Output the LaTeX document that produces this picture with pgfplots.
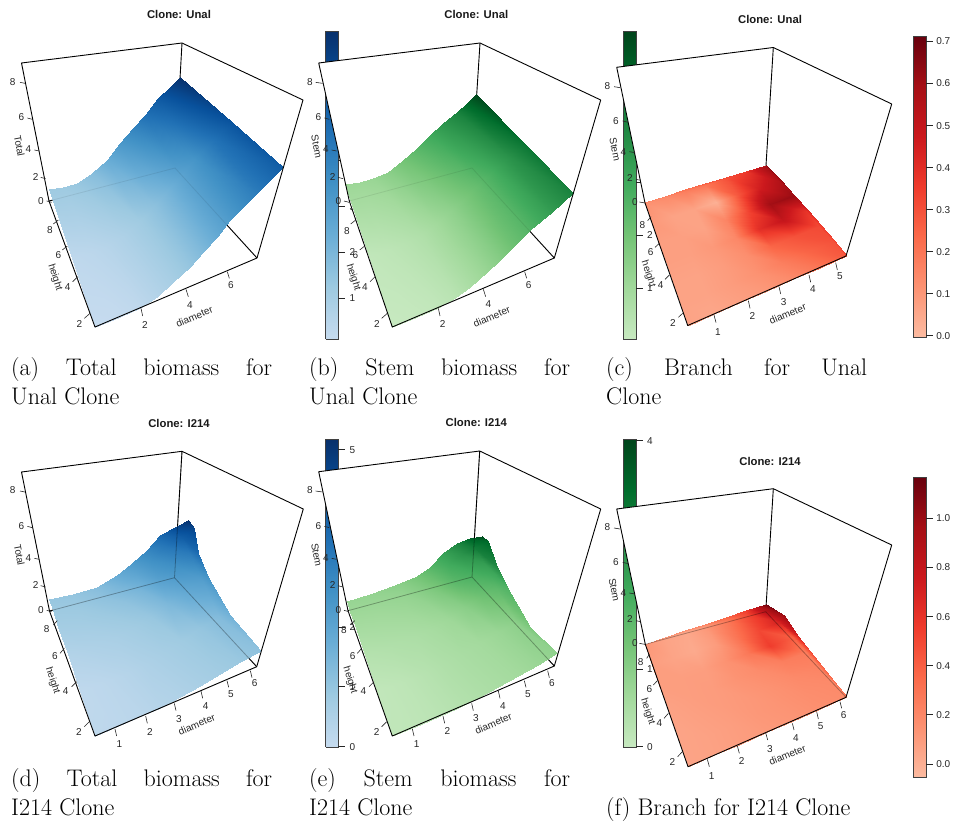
\documentclass[border=0pt]{standalone}
\usepackage{fontspec}
\usepackage{pgfplots}
\pgfplotsset{compat=1.18}
\newfontfamily\hv{Liberation Sans}
\pgfplotsset{
  colormap={blues}{rgb255=(198,219,239) rgb255=(158,202,225) rgb255=(107,174,214) rgb255=(66,146,198) rgb255=(33,113,181) rgb255=(8,81,156) rgb255=(8,48,107)},
  colormap={greens}{rgb255=(199,233,192) rgb255=(161,217,155) rgb255=(116,196,118) rgb255=(65,171,93) rgb255=(35,139,69) rgb255=(0,109,44) rgb255=(0,68,27)},
  colormap={reds}{rgb255=(252,187,161) rgb255=(252,146,114) rgb255=(251,106,74) rgb255=(239,59,44) rgb255=(203,24,29) rgb255=(165,15,21) rgb255=(103,0,13)},
  px/.style={scale only axis,width=957pt,height=828pt,xmin=0,xmax=957,ymin=0,ymax=828,y dir=reverse,hide axis,clip=false},
  bl/.style={black,line width=0.9pt,line join=round,no markers},
  fl/.style={fill=white,draw=none,no markers},
  ov/.style={black,line width=0.8pt,no markers},
  bd/.style={black!75,line width=0.9pt,no markers},
  sf/.style n args={2}{surf,shader=interp,mesh/rows=#1,mesh/cols=#2,point meta=explicit,no markers},
}
\tikzset{
  tl/.style={font=\hv\fontsize{10}{11}\selectfont,text=black!85,inner sep=0pt},
  ttl/.style={font=\hv\bfseries\fontsize{11.3}{13}\selectfont,text=black!90,inner sep=0pt},
  captxt/.style={anchor=base west,inner sep=0pt,font=\fontsize{24}{28}\selectfont,text=black},
}
\def\ox{0}\def\oy{0}
% tick mark and its label, in coordinates of the crop (3x) at offset \ox,\oy
\newcommand\tk[7]{%
  \pgfmathsetmacro\xa{\ox+#1/3}\pgfmathsetmacro\ya{\oy+#2/3}%
  \pgfmathsetmacro\xb{\ox+#3/3}\pgfmathsetmacro\yb{\oy+#4/3}%
  \pgfmathsetmacro\xl{\ox+#5/3}\pgfmathsetmacro\yl{\oy+#6/3}%
  \edef\temp{\noexpand\draw[line width=.6pt,black!85] (axis cs:\xa,\ya) -- (axis cs:\xb,\yb);
  \noexpand\node[tl] at (axis cs:\xl,\yl) {\unexpanded{#7}};}\temp}
% rotated axis label
\newcommand\al[4]{%
  \pgfmathsetmacro\xl{\ox+#1/3}\pgfmathsetmacro\yl{\oy+#2/3}%
  \edef\temp{\noexpand\node[tl,rotate=#3] at (axis cs:\xl,\yl) {#4};}\temp}
\begin{document}
\begin{tikzpicture}
% ---------------- (a)
\begin{axis}[px,colormap name=blues,point meta min=0.1,point meta max=6.8]
\path (axis cs:0,0) rectangle (axis cs:957,828);
\addplot[bl] coordinates {(182,43) (175,168)};
\addplot[bl] coordinates {(49,201) (175,168)};
\addplot[bl] coordinates {(175,168) (257,258)};
\addplot[sf={3}{11}] table[x index=0,y index=1,meta index=2] {
95 327 0.10
120 316.7 0.15
140 308.3 0.30
156.7 296.7 0.60
173.3 281.7 0.95
190 266.7 1.40
203.3 251.7 1.90
216.7 236.7 2.50
230 220 3.10
256.7 193.3 4.20
283.3 166.7 5.30
72.15 258.15 0.30
91.65 252 0.40
108.35 245.5 0.55
124.2 235 0.80
140 220.85 1.15
155 205 1.60
168.3 190 2.15
180.85 175.85 2.75
194.15 159.15 3.35
213.35 140.3 4.50
231.65 121.7 5.60
49.3 189.3 1.20
63.3 187.3 1.20
76.7 182.7 1.35
91.7 173.3 1.70
106.7 160 2.40
120 143.3 3.20
133.3 128.3 3.90
145 115 4.60
158.3 98.3 5.40
170 87.3 6.10
180 76.7 6.80
};
\addplot[ov,opacity=.08] coordinates {(49,201) (175,168) (257,258)};
\addplot[bl] coordinates {(49,201) (21.5,63) (182,43) (303,100) (257,258) (95,327) (49,201)};
\def\ox{0}\def\oy{0}
\tk{60}{247}{75}{250}{38}{245}{8}
\tk{82}{354}{97}{358}{64}{352}{6}
\tk{103}{450}{118}{453}{85}{446}{4}
\tk{122}{532}{137}{536}{107}{530}{2}
\tk{140}{603}{155}{607}{123}{602}{0}
\tk{160}{672}{175}{660}{150}{690}{8}
\tk{187}{750}{202}{738}{175}{765}{6}
\tk{218}{845}{233}{830}{203}{860}{4}
\tk{253}{955}{270}{940}{238}{972}{2}
\tk{423}{925}{428}{948}{435}{975}{2}
\tk{558}{868}{565}{890}{570}{915}{4}
\tk{682}{815}{688}{835}{693}{855}{6}
\al{58}{438}{-79}{Total}
\al{165}{832}{-72}{height}
\al{583}{950}{23}{diameter}
\node[ttl] at (axis cs:179,14) {Clone: Unal};
\node[captxt] at (axis cs:11,375) {\hbox to 261pt{\spaceskip=6pt plus 1fil (a) Total biomass for}};
\node[captxt] at (axis cs:11,404) {Unal Clone};
% colour key of (a)
\addplot[sf={2}{2}] table[x index=0,y index=1,meta index=2] {
325.5 339 0.1
338.5 339 0.1
325.5 31 6.8
338.5 31 6.8
};
\addplot[bd] coordinates {(325.5,339) (338.5,339) (338.5,31) (325.5,31) (325.5,339)};
\def\ox{300}\def\oy{0}
\tk{115}{895}{135}{895}{157}{895}{1}
\tk{115}{757}{135}{757}{157}{757}{2}
\tk{115}{620}{135}{620}{157}{620}{3}
\tk{115}{482}{135}{482}{157}{482}{4}
\end{axis}
% ---------------- (b)
\begin{axis}[px,colormap name=greens,point meta min=0.05,point meta max=5.85]
\addplot[fl] coordinates {(318.7,63) (480,43) (600.7,100) (554.3,258) (392.3,327) (349.3,201)};
\addplot[bl] coordinates {(480,43) (472,168)};
\addplot[bl] coordinates {(349.3,201) (472,168)};
\addplot[bl] coordinates {(472,168) (554.3,258)};
\addplot[sf={3}{11}] table[x index=0,y index=1,meta index=2] {
392.3 327.3 0.05
416.7 317.3 0.10
438.3 308.3 0.20
455 298.3 0.40
470 286.7 0.75
486.7 271.7 1.20
500 260 1.60
513.3 246.7 2.10
530 230 2.60
551.7 211.7 3.40
573.3 193.3 4.20
368.65 255.65 0.20
388.35 249.5 0.30
405.8 243.3 0.45
421.65 235 0.65
436.65 223.35 1.00
451.7 210 1.40
465 197.5 1.85
478.3 185 2.30
493.35 170.85 2.90
509.2 157.5 3.70
524.65 143.8 4.60
345 184 1.10
360 181.7 1.10
373.3 178.3 1.20
388.3 171.7 1.50
403.3 160 2.00
416.7 148.3 2.50
430 135 3.00
443.3 123.3 3.60
456.7 111.7 4.20
466.7 103.3 5.00
476 94.3 5.85
};
\addplot[ov,opacity=.08] coordinates {(349.3,201) (472,168) (554.3,258)};
\addplot[bl] coordinates {(349.3,201) (318.7,63) (480,43) (600.7,100) (554.3,258) (392.3,327) (349.3,201)};
\def\ox{300}\def\oy{0}
\tk{47}{247}{68}{250}{30}{245}{8}
\tk{73}{354}{88}{358}{55}{352}{6}
\tk{95}{450}{110}{453}{78}{447}{4}
\tk{114}{532}{129}{536}{98}{530}{2}
\tk{132}{603}{147}{607}{115}{602}{0}
\tk{152}{672}{167}{660}{141}{692}{8}
\tk{179}{750}{194}{738}{166}{765}{6}
\tk{210}{845}{225}{830}{195}{860}{4}
\tk{245}{955}{262}{940}{231}{973}{2}
\tk{415}{925}{420}{948}{428}{973}{2}
\tk{550}{868}{557}{890}{565}{913}{4}
\tk{674}{815}{680}{835}{686}{855}{6}
\al{50}{440}{-79}{Stem}
\al{160}{832}{-72}{height}
\al{575}{950}{23}{diameter}
\node[ttl] at (axis cs:476.3,14) {Clone: Unal};
\node[captxt] at (axis cs:309,375) {\hbox to 261pt{\spaceskip=6pt plus 1fil (b) Stem biomass for}};
\node[captxt] at (axis cs:309,404) {Unal Clone};
\addplot[sf={2}{2}] table[x index=0,y index=1,meta index=2] {
623.3 339 0.05
636 339 0.05
623.3 31 5.85
636 31 5.85
};
\addplot[bd] coordinates {(623.3,339) (636,339) (636,31) (623.3,31) (623.3,339)};
\def\ox{600}\def\oy{0}
\tk{108}{865}{128}{865}{150}{865}{1}
\tk{108}{705}{128}{705}{150}{705}{2}
\tk{108}{546}{128}{546}{150}{546}{3}
\end{axis}
% ---------------- (c)
\begin{axis}[px,colormap name=reds,point meta min=0,point meta max=0.713]
\addplot[fl] coordinates {(616.7,67.3) (773.3,47.5) (891.7,104) (846,256) (687.7,325.5) (645,203)};
\addplot[bl] coordinates {(773.3,47.5) (765.7,170)};
\addplot[sf={7}{7}] table[x index=0,y index=1,meta index=2] {
688 325.5 0.07
714.3 313.9 0.06
740.7 302.3 0.08
767 290.8 0.10
793.3 279.2 0.14
819.7 267.6 0.20
846 256 0.28
680.8 305.1 0.07
706.1 294.4 0.07
731.5 283.7 0.09
756.7 273.1 0.12
782 262.4 0.18
807.4 251.7 0.25
832.6 241 0.30
673.7 284.7 0.07
697.9 274.9 0.07
722.2 265.1 0.09
746.5 255.4 0.13
770.7 245.6 0.25
795 235.8 0.30
819.2 226 0.32
666.5 264.3 0.08
689.7 255.3 0.08
712.9 246.5 0.10
736.2 237.6 0.15
759.4 228.7 0.40
782.6 219.9 0.50
805.9 211 0.38
659.3 243.8 0.08
681.5 235.8 0.08
703.7 227.9 0.07
725.9 220 0.16
748.1 212.1 0.33
770.3 204.2 0.60
792.5 196 0.62
652.2 223.4 0.10
673.3 216.3 0.07
694.4 209.3 0.07
715.6 202.3 0.03
736.8 195.2 0.28
757.9 188.3 0.45
779.1 181 0.55
645 203 0.12
665.1 196.8 0.14
685.2 190.7 0.18
705.4 184.5 0.20
725.5 178.3 0.30
745.6 172.2 0.37
765.7 166 0.60
};
\addplot[sf={2}{7}] table[x index=0,y index=1,meta index=2] {
645 203 0.12
665.1 196.8 0.14
685.2 190.7 0.18
705.4 184.5 0.20
725.5 178.3 0.30
745.6 172.2 0.37
765.7 166 0.60
645 202 0.16
665.1 195.6 0.18
685.2 189.5 0.22
705.4 183.3 0.28
725.5 177.1 0.33
745.6 171 0.36
765.7 165 0.55
};
\addplot[sf={2}{7}] table[x index=0,y index=1,meta index=2] {
846 256 0.28
832.6 241 0.30
819.2 226 0.32
805.9 211 0.38
792.5 196 0.62
779.1 181 0.55
765.7 166 0.60
846.5 255.5 0.33
834.2 240 0.34
820.8 225 0.36
807.5 210 0.42
794.1 195 0.60
780.7 180 0.62
765.7 165 0.65
};
\addplot[bl] coordinates {(645,203) (616.7,67.3) (773.3,47.5) (891.7,104) (846,256) (687.7,325.5) (645,203)};
\def\ox{600}\def\oy{0}
\tk{42}{260}{60}{263}{22}{257}{8}
\tk{68}{363}{85}{367}{48}{362}{6}
\tk{88}{455}{105}{458}{70}{455}{4}
\tk{108}{538}{122}{541}{90}{534}{2}
\tk{118}{606}{135}{609}{105}{605}{0}
\tk{143}{662}{153}{650}{127}{676}{8}
\tk{165}{742}{178}{730}{152}{757}{6}
\tk{195}{838}{208}{825}{182}{855}{4}
\tk{235}{952}{248}{940}{219}{970}{2}
\tk{342}{945}{348}{968}{354}{995}{1}
\tk{445}{902}{450}{925}{457}{947}{2}
\tk{537}{860}{542}{882}{551}{905}{3}
\tk{627}{825}{632}{847}{639}{866}{4}
\tk{707}{788}{712}{810}{720}{829}{5}
\al{45}{448}{-79}{Stem}
\al{145}{822}{-72}{height}
\al{563}{942}{23}{diameter}
\node[ttl] at (axis cs:770,19) {Clone: Unal};
\node[captxt] at (axis cs:606,375) {\hbox to 261pt{\spaceskip=6pt plus 1fil (c) Branch for Unal}};
\node[captxt] at (axis cs:606,404) {Clone};
\addplot[sf={2}{2}] table[x index=0,y index=1,meta index=2] {
913.3 337.3 0
926 337.3 0
913.3 36 0.713
926 36 0.713
};
\addplot[bd] coordinates {(913.3,337.3) (926,337.3) (926,36) (913.3,36) (913.3,337.3)};
\tk{978}{1007}{998}{1007}{1030}{1007}{0.0}
\tk{978}{881}{998}{881}{1030}{881}{0.1}
\tk{978}{755}{998}{755}{1030}{755}{0.2}
\tk{978}{629}{998}{629}{1030}{629}{0.3}
\tk{978}{503}{998}{503}{1030}{503}{0.4}
\tk{978}{377}{998}{377}{1030}{377}{0.5}
\tk{978}{250}{998}{250}{1030}{250}{0.6}
\tk{978}{124}{998}{124}{1030}{124}{0.7}
\end{axis}
% ---------------- (d)
\begin{axis}[px,colormap name=blues,point meta min=-0.02,point meta max=5.18]
\addplot[bl] coordinates {(182,451.3) (174.5,577.7)};
\addplot[bl] coordinates {(49.5,611) (174.5,577.7)};
\addplot[bl] coordinates {(174.5,577.7) (256.7,666.7)};
\addplot[sf={6}{9}] table[x index=0,y index=1,meta index=2] {
95 736 0.15
118 726 0.18
143 715 0.25
160 708 0.35
180 697 0.45
200 686 0.60
220 674 0.75
240 662 0.90
260.7 650.7 1.10
79.9 690.9 0.12
103.2 682.5 0.20
127.7 672.7 0.35
145.7 664.1 0.50
164.1 652.9 0.65
182.4 641.1 0.80
200.2 628.1 1.00
219.1 617.1 1.30
230 615 1.60
67.6 654 0.40
91.2 647 0.50
115.2 638 0.60
134 628.2 0.75
151 616.8 0.95
168 604.4 1.40
184 590.6 1.90
202 580.4 2.20
208 577 2.50
58.4 626.6 0.70
82.2 620.6 0.75
106 612.4 0.90
125.4 601.6 1.10
141.4 590 1.50
157.4 577.2 2.20
172 562.8 2.70
189.4 553.2 3.20
198 553 3.60
53 610.2 0.85
76.9 604.8 0.90
100.4 597 1.10
120.2 585.6 1.50
135.6 574 2.00
151 560.9 2.60
164.8 546.1 3.30
181.8 536.9 4.00
193.5 528 4.60
49.3 599.3 0.95
73.3 594.3 1.00
96.7 586.7 1.25
116.7 575 1.80
131.7 563.3 2.30
146.7 550 2.90
160 535 3.70
176.7 526 4.60
188.3 520 5.15
};
\addplot[ov,opacity=.3] coordinates {(182,451.3) (174.5,577.7)};
\addplot[ov,opacity=.3] coordinates {(49.5,611) (174.5,577.7) (256.7,666.7)};
\addplot[bl] coordinates {(49.5,611) (21.5,472) (182,451.3) (303.3,509) (256.7,666.7) (95,736) (49.5,611)};
\def\ox{0}\def\oy{410}
\tk{60}{243}{75}{246}{38}{241}{8}
\tk{82}{349}{97}{353}{64}{347}{6}
\tk{103}{445}{118}{448}{85}{443}{4}
\tk{122}{527}{137}{531}{107}{525}{2}
\tk{140}{601}{155}{605}{123}{600}{0}
\tk{160}{645}{172}{632}{140}{658}{8}
\tk{180}{730}{193}{715}{165}{738}{6}
\tk{215}{830}{230}{815}{197}{842}{4}
\tk{253}{950}{268}{935}{237}{967}{2}
\tk{345}{957}{350}{978}{358}{1003}{1}
\tk{437}{918}{442}{940}{450}{965}{2}
\tk{523}{880}{528}{902}{537}{927}{3}
\tk{603}{843}{608}{865}{617}{888}{4}
\tk{681}{812}{686}{832}{693}{853}{5}
\tk{751}{782}{756}{803}{764}{820}{6}
\al{58}{435}{-79}{Total}
\al{158}{812}{-72}{height}
\al{590}{943}{23}{diameter}
\node[ttl] at (axis cs:179,423) {Clone: I214};
\node[captxt] at (axis cs:11,786) {\hbox to 261pt{\spaceskip=6pt plus 1fil (d) Total biomass for}};
\node[captxt] at (axis cs:11,815) {I214 Clone};
\addplot[sf={2}{2}] table[x index=0,y index=1,meta index=2] {
325.5 747.3 -0.02
338.5 747.3 -0.02
325.5 439.3 5.18
338.5 439.3 5.18
};
\addplot[bd] coordinates {(325.5,747.3) (338.5,747.3) (338.5,439.3) (325.5,439.3) (325.5,747.3)};
\def\ox{300}\def\oy{410}
\tk{115}{1008}{135}{1008}{157}{1010}{0}
\tk{115}{830}{135}{830}{157}{830}{1}
\tk{115}{652}{135}{652}{157}{652}{2}
\tk{115}{474}{135}{474}{157}{474}{3}
\tk{115}{296}{135}{296}{157}{296}{4}
\tk{115}{118}{135}{118}{157}{121}{5}
\end{axis}
% ---------------- (e)
\begin{axis}[px,colormap name=greens,point meta min=-0.02,point meta max=4.01]
\addplot[fl] coordinates {(318.7,471.7) (479.7,451) (600.7,509) (554.3,666) (392.3,736) (348,610.7)};
\addplot[bl] coordinates {(479.7,451) (472,577)};
\addplot[bl] coordinates {(348,610.7) (472,577)};
\addplot[bl] coordinates {(472,577) (554.3,666)};
\addplot[sf={6}{9}] table[x index=0,y index=1,meta index=2] {
392.3 735.7 0.10
415 727 0.13
438 717 0.20
458 708 0.30
478 698 0.40
498 687 0.50
518 676 0.60
538 665 0.75
557.3 653.3 0.90
377.3 691.2 0.08
401.2 682.7 0.15
425.5 672.9 0.28
444.4 664.4 0.40
462.2 654.7 0.50
480 642.9 0.60
497.8 632.2 0.75
515.6 623 0.95
530 627 1.20
364.9 654.7 0.30
390 646.4 0.38
415.2 636.8 0.45
433.2 628.8 0.55
449.2 619.2 0.70
465.2 606.8 1.00
481.2 596.4 1.40
497.2 588.6 1.60
506.7 586.7 1.80
355.8 627.7 0.55
381.6 619.6 0.60
407.6 610 0.70
425 602.4 0.85
439.6 593 1.15
454.2 580 1.70
469 569.8 2.00
483.6 563.2 2.30
496.7 566.7 2.70
350.3 611.5 0.70
376.6 603.4 0.75
403 594 0.85
420 586.6 1.10
433.8 577.2 1.50
447.7 564 2.00
461.6 553.9 2.50
475.4 547.9 3.00
488 541 3.40
346.7 600.7 0.80
373.3 592.7 0.85
400 583.3 1.00
416.7 576 1.30
430 566.7 1.70
443.3 553.3 2.20
456.7 543.3 2.80
470 537.7 3.50
481.7 535.7 3.95
};
\addplot[ov,opacity=.3] coordinates {(479.7,451) (472,577)};
\addplot[ov,opacity=.3] coordinates {(348,610.7) (472,577) (554.3,666)};
\addplot[bl] coordinates {(348,610.7) (318.7,471.7) (479.7,451) (600.7,509) (554.3,666) (392.3,736) (348,610.7)};
\def\ox{300}\def\oy{410}
\tk{47}{243}{68}{246}{30}{241}{8}
\tk{73}{349}{88}{353}{55}{347}{6}
\tk{95}{445}{110}{448}{78}{443}{4}
\tk{114}{527}{129}{531}{98}{525}{2}
\tk{132}{601}{147}{605}{115}{600}{0}
\tk{152}{645}{164}{632}{132}{659}{8}
\tk{172}{730}{185}{715}{158}{738}{6}
\tk{207}{830}{222}{815}{190}{842}{4}
\tk{245}{950}{260}{935}{230}{965}{2}
\tk{337}{957}{342}{978}{350}{1003}{1}
\tk{429}{918}{434}{940}{442}{962}{2}
\tk{515}{880}{520}{902}{528}{923}{3}
\tk{595}{843}{600}{865}{609}{888}{4}
\tk{673}{812}{678}{832}{684}{853}{5}
\tk{743}{782}{748}{803}{756}{820}{6}
\al{50}{435}{-79}{Stem}
\al{150}{810}{-72}{height}
\al{580}{940}{23}{diameter}
\node[ttl] at (axis cs:476.3,422) {Clone: I214};
\node[captxt] at (axis cs:309,786) {\hbox to 261pt{\spaceskip=6pt plus 1fil (e) Stem biomass for}};
\node[captxt] at (axis cs:309,815) {I214 Clone};
\addplot[sf={2}{2}] table[x index=0,y index=1,meta index=2] {
623.3 747.3 -0.02
636 747.3 -0.02
623.3 439.3 4.01
636 439.3 4.01
};
\addplot[bd] coordinates {(623.3,747.3) (636,747.3) (636,439.3) (623.3,439.3) (623.3,747.3)};
\def\ox{600}\def\oy{410}
\tk{108}{1008}{128}{1008}{150}{1010}{0}
\tk{108}{778}{128}{778}{150}{778}{1}
\tk{108}{549}{128}{549}{150}{549}{2}
\tk{108}{320}{128}{320}{150}{320}{3}
\tk{108}{90}{128}{90}{150}{92}{4}
\end{axis}
% ---------------- (f)
\begin{axis}[px,colormap name=reds,point meta min=-0.056,point meta max=1.166]
\addplot[fl] coordinates {(616.7,509) (773.3,488.7) (891.7,545) (846,697.3) (688,766.7) (645.3,644.3)};
\addplot[bl] coordinates {(773.3,488.7) (765.7,611.7)};
\addplot[sf={7}{7}] table[x index=0,y index=1,meta index=2] {
688 766.8 0.06
714.3 755.2 0.07
740.7 743.6 0.09
767 732.1 0.11
793.3 720.5 0.13
819.7 708.9 0.16
846 697.3 0.18
680.8 746.4 0.06
706.1 735.7 0.07
731.5 725 0.09
756.7 714.4 0.12
782 703.7 0.14
807.4 693 0.17
832.6 682.3 0.19
673.7 726 0.06
697.9 716.2 0.08
722.2 706.4 0.10
746.5 696.7 0.12
770.7 686.9 0.15
795 677.1 0.19
819.2 667.3 0.22
666.5 705.6 0.07
689.7 696.6 0.09
712.9 687.8 0.10
736.2 678.9 0.14
759.4 670 0.18
782.6 661.2 0.25
805.9 652.3 0.26
659.3 685.1 0.09
681.5 677.1 0.09
703.7 669.2 0.09
725.9 661.3 0.15
748.1 653.4 0.28
770.3 645.5 0.55
792.5 637.3 0.40
652.2 664.7 0.09
673.3 657.6 0.06
694.4 650.6 0.03
715.6 643.6 0.10
736.8 636.5 0.30
757.9 629.6 0.50
779.1 622.3 0.70
645.3 644.3 0.12
665.1 638.1 0.06
685.2 632 0.04
705.4 625.8 0.12
725.5 619.6 0.28
745.6 613.5 0.50
765.7 607.3 1.00
};
\addplot[sf={2}{7}] table[x index=0,y index=1,meta index=2] {
645.3 644.3 0.12
665.1 638.1 0.06
685.2 632 0.04
705.4 625.8 0.12
725.5 619.6 0.28
745.6 613.5 0.50
765.7 607.3 1.00
645.3 643.5 0.14
665.1 636.8 0.15
685.2 630 0.18
705.4 623.5 0.24
725.5 616.5 0.38
745.6 610 0.55
765.7 604 1.15
};
\addplot[sf={2}{7}] table[x index=0,y index=1,meta index=2] {
846 697.3 0.18
832.6 682.3 0.19
819.2 667.3 0.22
805.9 652.3 0.26
792.5 637.3 0.40
779.1 622.3 0.70
765.7 607.3 1.00
846.5 696.7 0.30
834 681 0.35
822 666 0.40
810 651 0.50
798 636 0.70
784 615 1.00
765.7 604 1.15
};
\addplot[ov,opacity=.3] coordinates {(645.3,644.3) (765.7,611.7) (846,697.3)};
\addplot[bl] coordinates {(645.3,644.3) (616.7,509) (773.3,488.7) (891.7,545) (846,697.3) (688,766.7) (645.3,644.3)};
\def\ox{600}\def\oy{410}
\tk{42}{354}{60}{357}{22}{351}{8}
\tk{68}{457}{85}{461}{48}{456}{6}
\tk{88}{549}{105}{552}{70}{549}{4}
\tk{108}{632}{122}{635}{90}{627}{2}
\tk{118}{700}{135}{703}{105}{700}{0}
\tk{140}{745}{148}{733}{122}{757}{8}
\tk{160}{825}{172}{812}{148}{838}{6}
\tk{192}{925}{205}{910}{178}{938}{4}
\tk{233}{1040}{247}{1025}{217}{1057}{2}
\tk{322}{1048}{328}{1070}{335}{1097}{1}
\tk{412}{1008}{418}{1030}{425}{1053}{2}
\tk{497}{968}{503}{990}{510}{1018}{3}
\tk{577}{940}{582}{960}{588}{983}{4}
\tk{650}{905}{655}{927}{662}{949}{5}
\tk{720}{875}{725}{895}{731}{916}{6}
\al{43}{540}{-79}{Stem}
\al{143}{905}{-72}{height}
\al{562}{1035}{23}{diameter}
\node[ttl] at (axis cs:770,461) {Clone: I214};
\node[captxt] at (axis cs:606,815) {(f) Branch for I214 Clone};
\addplot[sf={2}{2}] table[x index=0,y index=1,meta index=2] {
913.3 777.7 -0.056
926 777.7 -0.056
913.3 477.3 1.166
926 477.3 1.166
};
\addplot[bd] coordinates {(913.3,777.7) (926,777.7) (926,477.3) (913.3,477.3) (913.3,777.7)};
\tk{978}{1062}{998}{1062}{1030}{1062}{0.0}
\tk{978}{914}{998}{914}{1030}{914}{0.2}
\tk{978}{767}{998}{767}{1030}{767}{0.4}
\tk{978}{620}{998}{620}{1030}{620}{0.6}
\tk{978}{472}{998}{472}{1030}{472}{0.8}
\tk{978}{325}{998}{325}{1030}{325}{1.0}
\end{axis}
\end{tikzpicture}
\end{document}
